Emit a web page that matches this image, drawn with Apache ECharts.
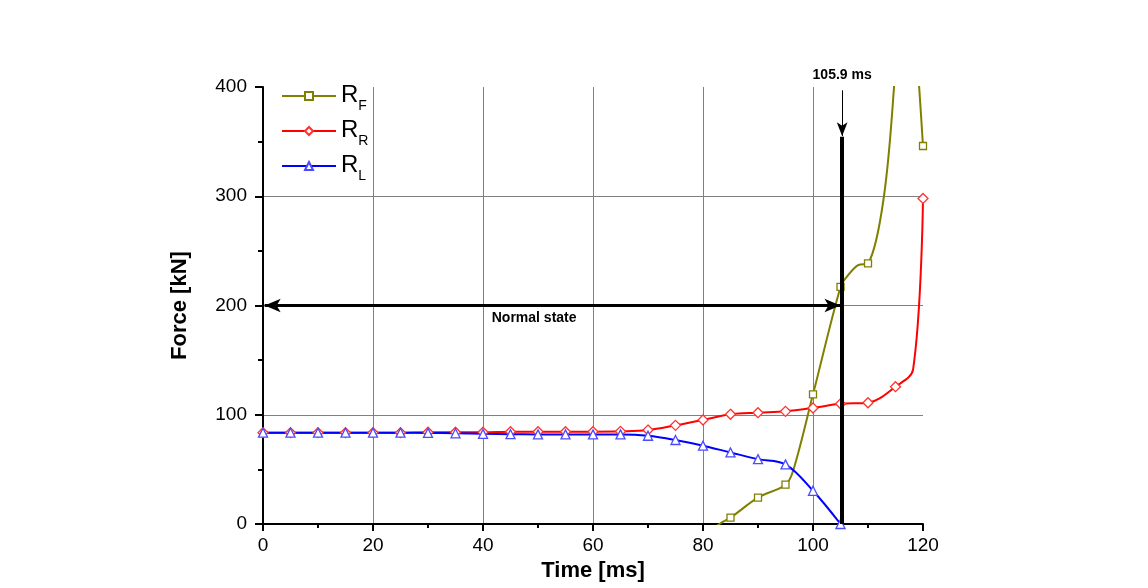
<!DOCTYPE html>
<html>
<head>
<meta charset="utf-8">
<script src="https://cdn.jsdelivr.net/npm/echarts@6/dist/echarts.min.js"></script>
<style>
  html, body { margin: 0; padding: 0; background: #fff; }
  #chart { width: 1148px; height: 588px; }
</style>
</head>
<body>
<div id="chart"></div>
<script>
// data (time in ms, force in kN)
const rfTime  = [80, 83, 85, 90, 95, 96.4, 100, 105, 106.1, 108.2, 110, 112.9, 115, 117, 119.3, 120];
const rfValue = [-12, 0, 5.8, 24.1, 36, 49, 118.7, 217, 226, 237, 238.6, 300, 418, 560, 400, 346];

const rrTime  = [0, 5, 10, 15, 20, 25, 30, 35, 40, 45, 50, 55, 60, 65, 70, 75, 80, 85, 90, 95, 100, 105, 110, 115, 118.2, 120];
const rrValue = [83.6, 83.6, 83.6, 83.6, 83.6, 83.6, 84, 84, 84, 84.5, 84.5, 84.5, 84.5, 84.8, 86, 90.3, 95.2, 100.4, 101.9, 103.1, 106.2, 110, 111, 125.7, 141.6, 298];

const rlTime  = [0, 5, 10, 15, 20, 25, 30, 35, 40, 45, 50, 55, 60, 65, 70, 75, 80, 85, 90, 95, 100, 105];
const rlValue = [83.6, 83.6, 83.6, 83.6, 83.6, 83.6, 83.4, 83, 82.5, 82.2, 82, 82, 82, 82, 80.8, 76.9, 71.7, 65.5, 59.4, 54.6, 30.4, 0];

// 105.9 ms event; in the figure the bar sits a little left, at about 105.3 on the axis
const eventLabel = '105.9 ms';
const eventX = 105.3;
const xTicks = [0, 120, 20];
const yTicks = [0, 400, 100];

// markers only at every 5 ms, extra points just shape the curve
const toData = (ts, vs) => ts.map((t, i) => {
    const show = t % 5 === 0 && vs[i] >= 0;
    return show ? [t, vs[i]] : { value: [t, vs[i]], symbol: 'none' };
});

const font = 'Liberation Sans, Arial, sans-serif';
const chart = echarts.init(document.getElementById('chart'));

const mkSeries = (name, ts, vs, color, symbol, size, border) => ({
    name: name,
    type: 'line',
    data: toData(ts, vs),
    smooth: 0.35,
    clip: true,
    symbol: symbol,
    symbolSize: size,
    lineStyle: { color: color, width: 2 },
    itemStyle: { color: '#fff', borderColor: border, borderWidth: 1.3 },
    emphasis: { disabled: true }
});

const series = [
    mkSeries('RF', rfTime, rfValue, '#808000', 'rect', 7, '#808000'),
    mkSeries('RR', rrTime, rrValue, '#ff0000', 'diamond', 10, '#ff3030'),
    mkSeries('RL', rlTime, rlValue, '#0000ff', 'triangle', 9, '#4a4aff')
];

// annotations go on the first series
series[0].markLine = {
    silent: true,
    animation: false,
    label: { show: false },
    data: [
        [
            { coord: [eventX, 0], symbol: 'none', lineStyle: { color: '#000', width: 4, type: 'solid' } },
            { coord: [eventX, 354.5], symbol: 'none' }
        ],
        [
            { coord: [eventX, 397], symbol: 'none', lineStyle: { color: '#000', width: 1, type: 'solid' } },
            { coord: [eventX, 355], symbol: 'arrow', symbolSize: [8, 14] }
        ],
        [
            { coord: [0.3, 200], symbol: 'arrow', symbolSize: [10, 16], lineStyle: { color: '#000', width: 3, type: 'solid' } },
            { coord: [eventX - 0.3, 200], symbol: 'arrow', symbolSize: [10, 16] }
        ]
    ]
};

chart.setOption({
    animation: false,
    backgroundColor: '#fff',
    grid: { left: 263, right: 225, top: 87, bottom: 64 },
    legend: {
        orient: 'vertical',
        left: 276,
        top: 78,
        itemWidth: 54,
        itemHeight: 10,
        itemGap: 5,
        selectedMode: false,
        data: ['RF', 'RR', 'RL'],
        formatter: (name) => '{a|R}{b|' + name.slice(1) + '}',
        textStyle: {
            color: '#000',
            fontFamily: font,
            rich: {
                a: { fontSize: 24, fontFamily: font, color: '#000', verticalAlign: 'top', lineHeight: 26 },
                b: { fontSize: 14, fontFamily: font, color: '#000', verticalAlign: 'top', padding: [16, 0, 0, 0], lineHeight: 14 }
            }
        }
    },
    xAxis: {
        type: 'value',
        min: xTicks[0], max: xTicks[1], interval: xTicks[2],
        name: 'Time [ms]',
        nameLocation: 'middle',
        nameGap: 34,
        nameTextStyle: { fontFamily: font, fontSize: 22, fontWeight: 'bold', color: '#000' },
        axisLine: { onZero: false, lineStyle: { color: '#000', width: 2 } },
        axisTick: { show: true, length: 7, lineStyle: { color: '#000', width: 2 } },
        minorTick: { show: true, splitNumber: 2, length: 4, lineStyle: { color: '#000', width: 2 } },
        axisLabel: { fontFamily: font, fontSize: 19, color: '#000', margin: 12 },
        splitLine: { show: true, showMinLine: false, showMaxLine: false, lineStyle: { color: '#808080', width: 1 } }
    },
    yAxis: {
        type: 'value',
        min: yTicks[0], max: yTicks[1], interval: yTicks[2],
        name: 'Force [kN]',
        nameLocation: 'middle',
        nameGap: 72,
        nameTextStyle: { fontFamily: font, fontSize: 22, fontWeight: 'bold', color: '#000' },
        axisLine: { show: true, lineStyle: { color: '#000', width: 2 } },
        axisTick: { show: true, length: 8, lineStyle: { color: '#000', width: 2 } },
        minorTick: { show: true, splitNumber: 2, length: 5, lineStyle: { color: '#000', width: 2 } },
        axisLabel: { fontFamily: font, fontSize: 19, color: '#000', margin: 16 },
        splitLine: { show: true, showMinLine: false, showMaxLine: false, lineStyle: { color: '#808080', width: 1 } }
    },
    series: series
});

// text labels placed in data coordinates
const p1 = chart.convertToPixel({ gridIndex: 0 }, [eventX, 0]);
const topY = chart.convertToPixel({ gridIndex: 0 }, [0, 400])[1];
const p2 = chart.convertToPixel({ gridIndex: 0 }, [49.3, 188]);
chart.setOption({
    graphic: [
        {
            type: 'text', x: p1[0], y: topY - 12,
            style: { text: eventLabel, font: 'bold 14px ' + font, fill: '#000', align: 'center', verticalAlign: 'middle' }
        },
        {
            type: 'text', x: p2[0], y: p2[1],
            style: { text: 'Normal state', font: 'bold 14px ' + font, fill: '#000', align: 'center', verticalAlign: 'middle' }
        }
    ]
});
</script>
</body>
</html>
